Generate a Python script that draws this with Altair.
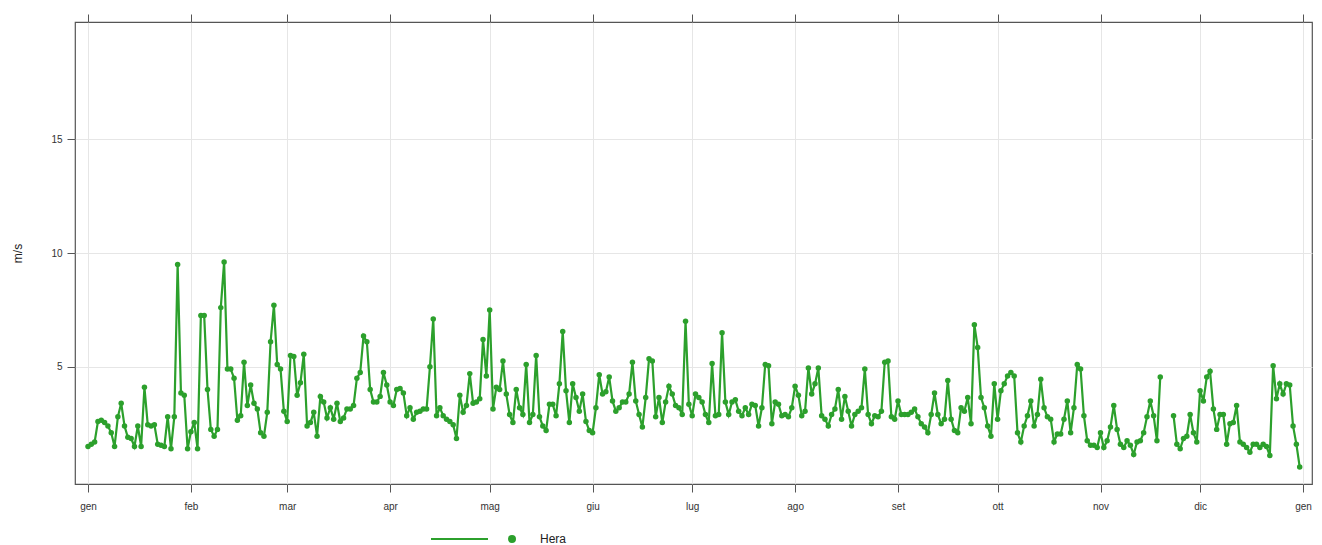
import altair as alt
import pandas as pd

# Daily wind speed (m/s), station "Hera", year 2024 (one list per month)
gen = [1.5, 1.6, 1.7, 2.6, 2.65, 2.55, 2.4, 2.1, 1.5, 2.8, 3.4, 2.4, 1.9, 1.85, 1.5, 2.4,
       1.5, 4.1, 2.45, 2.4, 2.45, 1.6, 1.55, 1.5, 2.8, 1.4, 2.8, 9.5, 3.85, 3.75, 1.4]
feb = [2.15, 2.55, 1.4, 7.25, 7.25, 4.0, 2.25, 1.95, 2.25, 7.6, 9.6, 4.9, 4.9, 4.5, 2.65,
       2.85, 5.2, 3.3, 4.2, 3.4, 3.15, 2.1, 1.95, 3.0, 6.1, 7.7, 5.1, 4.9, 3.05]
mar = [2.6, 5.5, 5.45, 3.75, 4.3, 5.55, 2.4, 2.55, 3.0, 1.95, 3.7, 3.45, 2.75, 3.2, 2.7,
       3.4, 2.6, 2.75, 3.15, 3.15, 3.3, 4.5, 4.75, 6.35, 6.1, 4.0, 3.45, 3.45, 3.7, 4.75, 4.2]
apr = [3.45, 3.3, 4.0, 4.05, 3.85, 2.85, 3.2, 2.7, 3.0, 3.05, 3.15, 3.15, 5.0, 7.1, 2.85,
       3.2, 2.85, 2.7, 2.6, 2.45, 1.85, 3.75, 3.0, 3.3, 4.7, 3.4, 3.45, 3.6, 6.2, 4.6]
mag = [7.5, 3.15, 4.1, 4.0, 5.25, 3.8, 2.9, 2.55, 4.0, 3.2, 2.9, 5.1, 2.55, 2.9, 5.5, 2.8,
       2.4, 2.2, 3.35, 3.35, 2.85, 4.25, 6.55, 3.95, 2.55, 4.25, 3.65, 3.05, 3.8, 2.6, 2.2]
giu = [2.1, 3.2, 4.65, 3.8, 3.9, 4.55, 3.5, 3.05, 3.2, 3.45, 3.45, 3.8, 5.2, 3.5, 2.9,
       2.35, 3.65, 5.35, 5.25, 2.8, 3.65, 2.55, 3.45, 4.15, 3.8, 3.3, 3.2, 2.9, 7.0, 3.35]
lug = [2.85, 3.8, 3.65, 3.45, 2.9, 2.55, 5.15, 2.85, 2.9, 6.5, 3.45, 2.9, 3.45, 3.55, 3.05,
       2.85, 3.2, 2.9, 3.35, 3.3, 2.4, 3.2, 5.1, 5.05, 2.5, 3.45, 3.35, 2.85, 2.9, 2.8, 3.2]
ago = [4.15, 3.75, 2.85, 3.05, 4.95, 3.8, 4.25, 4.95, 2.85, 2.7, 2.4, 2.9, 3.15, 4.0, 2.7,
       3.7, 3.05, 2.4, 2.9, 3.05, 3.2, 4.9, 2.9, 2.5, 2.85, 2.8, 3.05, 5.2, 5.25, 2.8, 2.7]
set_ = [3.5, 2.9, 2.9, 2.9, 3.0, 3.15, 2.8, 2.5, 2.35, 2.1, 2.9, 3.85, 2.9, 2.5, 2.7, 4.4,
        2.7, 2.2, 2.1, 3.2, 3.05, 3.65, 2.5, 6.85, 5.85, 3.65, 3.2, 2.4, 1.95, 4.25]
ott = [2.7, 3.95, 4.25, 4.6, 4.75, 4.6, 2.1, 1.7, 2.4, 2.85, 3.5, 2.4, 2.9, 4.45, 3.2, 2.8,
       2.7, 1.7, 2.05, 2.05, 2.7, 3.5, 2.1, 3.2, 5.1, 4.9, 2.85, 1.75, 1.55, 1.55, 1.45]
nov = [2.1, 1.45, 1.75, 2.35, 3.3, 2.25, 1.6, 1.45, 1.75, 1.55, 1.15, 1.7, 1.75, 2.1, 2.8,
       3.5, 2.85, 1.75, 4.55, None, None, None, 2.85, 1.6, 1.4, 1.85, 1.95, 2.9, 2.1, 1.7]
dic = [3.95, 3.5, 4.55, 4.8, 3.15, 2.25, 2.9, 2.9, 1.6, 2.5, 2.55, 3.3, 1.7, 1.6, 1.45,
       1.25, 1.6, 1.6, 1.45, 1.6, 1.5, 1.1, 5.05, 3.6, 4.25, 3.8, 4.25, 4.2, 2.4, 1.6, 0.6]

month_labels = ["gen", "feb", "mar", "apr", "mag", "giu", "lug", "ago", "set", "ott", "nov", "dic"]
site_name = "Hera"
y_ticks = [5, 10, 15]

values = gen + feb + mar + apr + mag + giu + lug + ago + set_ + ott + nov + dic
dates = pd.date_range("2024-01-01", periods=len(values), freq="D").strftime("%Y-%m-%d").tolist()
df = pd.DataFrame({"date": dates, "ms": values, "site": [site_name] * len(values)})

GREEN = "#2ca02c"
FONT = "Liberation Sans"
label_expr = "[" + ",".join("'%s'" % m for m in month_labels) + "][utcmonth(datum.value)]"

xscale = alt.Scale(
    type="utc",
    domain=[alt.DateTime(year=2023, month=12, date=28, hours=2, utc=True),
            alt.DateTime(year=2025, month=1, date=3, hours=17, utc=True)],
    nice=False,
)
yscale = alt.Scale(domain=[-0.15, 20.15], nice=False, zero=False)

legend_path = ("M-16.2,0 L-4.8,0 "
               "M0,-0.6 A0.6,0.6 0 1,1 0,0.6 A0.6,0.6 0 1,1 0,-0.6 Z")

color = alt.Color(
    "site:N",
    scale=alt.Scale(range=[GREEN]),
    legend=alt.Legend(
        title=None, orient="none", legendX=431, legendY=511, padding=0,
        symbolType=legend_path, symbolSize=100, symbolStrokeWidth=2,
        symbolFillColor=GREEN, symbolStrokeColor=GREEN, symbolOpacity=1,
        labelFont=FONT, labelFontSize=12, labelColor="#222", labelOffset=22,
    ),
)

y_enc = alt.Y(
    "ms:Q", scale=yscale, title="m/s",
    axis=alt.Axis(values=y_ticks, grid=True, gridColor="#e6e6e6", gridWidth=1,
                  domain=False, tickSize=8, tickColor="#555", labelPadding=5,
                  labelFont=FONT, labelFontSize=10, labelColor="#333",
                  titleFont=FONT, titleFontSize=12, titleFontWeight="normal",
                  titleColor="#222", titlePadding=26),
)

line = alt.Chart(df).mark_line(strokeWidth=2.2, invalid="break-paths-filter-domains").encode(
    x=alt.X("date:T", scale=xscale, title=None,
            axis=alt.Axis(orient="bottom", tickCount={"interval": "month", "step": 1},
                          labelExpr=label_expr, grid=True, gridColor="#e6e6e6", gridWidth=1,
                          domain=False, tickSize=8, tickColor="#555", labelPadding=9,
                          labelFont=FONT, labelFontSize=10, labelColor="#333")),
    y=y_enc,
    color=color,
)

points = alt.Chart(df).mark_point(filled=True, size=30, opacity=1).encode(
    x=alt.X("date:T", scale=xscale, title=None,
            axis=alt.Axis(orient="top", tickCount={"interval": "month", "step": 1},
                          labels=False, grid=False, domain=False, tickSize=8,
                          tickColor="#555")),
    y=y_enc,
    color=color,
)

chart = (
    alt.layer(line, points)
    .resolve_axis(x="independent")
    .properties(
        width=1237, height=462,
        autosize=alt.AutoSizeParams(type="none"),
        padding={"left": 75, "top": 22, "right": 10, "bottom": 61},
        background="white",
    )
    .configure_view(stroke="#555", strokeWidth=1.2)
)

chart.save("out.html", embed_options={"renderer": "svg", "actions": False})
